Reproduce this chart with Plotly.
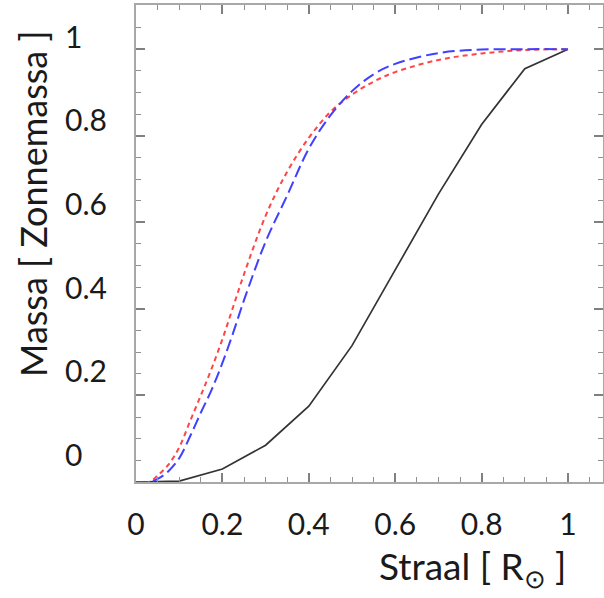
import plotly.graph_objects as go

# Data
radius_black = [0.0, 0.1, 0.2, 0.3, 0.4, 0.5, 0.6, 0.7, 0.8, 0.9, 1.0]
mass_black = [0.0, 0.002, 0.03, 0.085, 0.175, 0.315, 0.49, 0.665, 0.826, 0.955, 1.0]

radius_curve = [0.0, 0.03, 0.05, 0.075, 0.1, 0.125, 0.15, 0.175, 0.2, 0.225, 0.25, 0.3, 0.35,
                0.4, 0.45, 0.5, 0.55, 0.6, 0.7, 0.8, 0.9, 1.0]
mass_red = [0.0, 0.0, 0.015, 0.04, 0.08, 0.14, 0.2, 0.262, 0.33, 0.405, 0.48, 0.615, 0.717,
            0.795, 0.855, 0.895, 0.925, 0.947, 0.975, 0.99, 0.998, 1.0]
mass_blue = [0.0, 0.0, 0.007, 0.025, 0.055, 0.105, 0.16, 0.213, 0.275, 0.345, 0.42, 0.555, 0.662,
             0.77, 0.847, 0.903, 0.942, 0.966, 0.991, 0.999, 1.0, 1.0]

tick_vals = [0, 0.2, 0.4, 0.6, 0.8, 1]
tick_text = ["0", "0.2", "0.4", "0.6", "0.8", "1"]

x_title = "Straal [ R<sub>⊙</sub> ]"
y_title = "Massa [ Zonnemassa ]"

FONT = "Lato"
W, H = 604, 598
ML, MR, MT, MB = 0, 1, 5, 116
PW = W - ML - MR
PH = H - MT - MB
X0 = 136  # pixel of left plot edge

fig = go.Figure()
fig.add_trace(go.Scatter(x=radius_black, y=mass_black, mode="lines",
                         line=dict(color="#333333", width=1.7), showlegend=False))
fig.add_trace(go.Scatter(x=radius_curve, y=mass_red, mode="lines", line_shape="spline",
                         line=dict(color="#ff4545", width=2, dash="5px,4px"), showlegend=False))
fig.add_trace(go.Scatter(x=radius_curve, y=mass_blue, mode="lines", line_shape="spline",
                         line=dict(color="#4040ff", width=2, dash="12px,5px"), showlegend=False))
# invisible trace to carry the label axis
fig.add_trace(go.Scatter(x=[0], y=[0], yaxis="y2", mode="markers",
                         marker=dict(opacity=0), showlegend=False, hoverinfo="skip"))

axis_common = dict(showgrid=False, zeroline=False, showline=True, linecolor="#a8a8a8",
                   linewidth=2, mirror="ticks", ticks="inside", ticklen=9, tickwidth=1.5,
                   tickcolor="#808080", automargin=False,
                   minor=dict(ticks="inside", ticklen=5, tickcolor="#909090", tickwidth=1,
                              dtick=0.05, tick0=0, showgrid=False))

fig.update_layout(
    width=W, height=H,
    margin=dict(l=ML, r=MR, t=MT, b=MB, autoexpand=False),
    paper_bgcolor="white", plot_bgcolor="white",
    font=dict(family=FONT, size=30, color="#1a1a1a"),
    xaxis=dict(domain=[X0 / PW, 1], range=[0, (W - MR - X0) / 432.0],
               tickvals=tick_vals, ticktext=tick_text, ticklabelstandoff=15,
               tickfont=dict(size=30), **axis_common),
    yaxis=dict(range=[0, 1.102], tickvals=tick_vals, ticktext=tick_text,
               showticklabels=False, **axis_common),
    yaxis2=dict(overlaying="y", anchor="free", side="right", position=64 / PW,
                range=[-0.064, 1.077], tickvals=tick_vals, ticktext=tick_text,
                showline=False, showgrid=False, zeroline=False, ticks="", automargin=False,
                tickfont=dict(size=30)),
    annotations=[
        dict(text=y_title, xref="paper", yref="paper", x=33 / PW, y=(PH - (204 - MT)) / PH,
             xanchor="center", yanchor="middle", textangle=-90, showarrow=False,
             font=dict(size=36)),
        dict(text=x_title, xref="paper", yref="paper", x=472 / PW, y=(PH - (568 - MT)) / PH,
             xanchor="center", yanchor="middle", showarrow=False, font=dict(size=37)),
    ],
)

fig.write_html("out.html", config={"displayModeBar": False},
               post_script="document.body.style.margin='0';")
